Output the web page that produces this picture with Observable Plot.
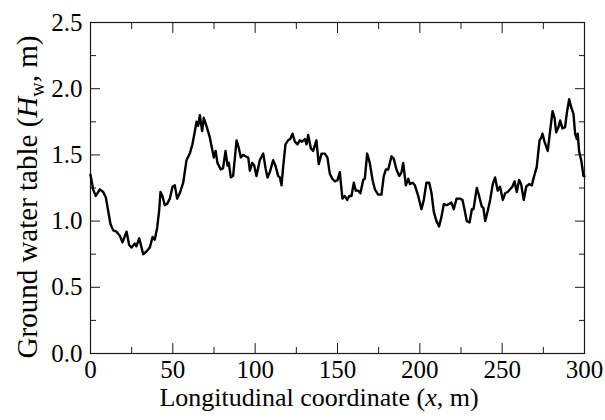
<!DOCTYPE html>
<html>
<head>
<meta charset="utf-8">
<script src="https://cdn.jsdelivr.net/npm/d3@7"></script>
<script src="https://cdn.jsdelivr.net/npm/@observablehq/plot@0.6"></script>
<style>
  html, body { margin: 0; padding: 0; background: #fff; }
  #chart { width: 605px; height: 420px; }
  #chart svg, #chart svg text { font-family: 'Liberation Serif', 'Times New Roman', Times, serif !important; }
</style>
</head>
<body>
<div id="chart"></div>
<script>
// Longitudinal coordinate along the section (m)
const xs = [
  0, 1.6, 3.2, 5.7, 7.7, 9.3, 10.7, 12.1, 13.8, 15.8, 17.8, 19.4, 21.9, 23.5, 24.9, 26.9, 27.9, 29.6, 31.0, 32.0,
  34.0, 36.0, 37.7, 39.0, 40.5, 41.7, 42.5, 43.7, 45.1, 46.5, 48.2, 49.8, 51.2, 52.6, 54.2, 56.3, 58.3, 60.3, 61.9, 63.4,
  64.4, 65.4, 66.4, 67.8, 68.8, 70.4, 72.5, 74.1, 74.9, 76.0, 77.1, 79.1, 80.5, 82.0, 83.2, 84.0, 85.2, 86.6, 88.7, 90.1,
  91.3, 92.7, 94.1, 95.8, 96.8, 98.2, 99.4, 100.8, 102.8, 104.9, 106.3, 107.5, 108.9, 110.9, 112.3, 114.0, 115.0, 116.0, 117.0, 118.4,
  120.0, 121.3, 122.7, 124.1, 125.7, 127.1, 128.5, 130.2, 131.2, 132.2, 133.8, 135.2, 137.2, 138.6, 140.3, 142.3, 143.9, 145.3, 146.8, 148.4,
  150.0, 151.4, 153.0, 154.4, 155.9, 157.1, 158.5, 159.9, 161.1, 162.5, 163.9, 165.6, 166.6, 168.0, 169.6, 171.3, 172.7, 174.7, 176.7, 178.1,
  179.4, 180.8, 182.8, 184.2, 185.8, 187.5, 188.9, 189.9, 191.5, 193.0, 194.0, 195.6, 197.0, 199.0, 201.0, 202.4, 204.0, 205.7, 207.1, 208.5,
  210.1, 211.7, 213.1, 214.6, 216.2, 217.8, 219.2, 220.6, 222.3, 224.3, 225.9, 227.1, 228.5, 230.2, 231.6, 232.6, 234.6, 236.0, 237.6, 238.6,
  239.7, 241.3, 242.7, 244.3, 245.7, 247.3, 248.7, 250.4, 251.8, 253.4, 254.8, 256.2, 257.5, 258.9, 260.3, 261.5, 263.1, 264.6, 266.4, 268.0,
  269.2, 271.0, 272.7, 273.7, 274.5, 275.7, 277.7, 279.1, 280.6, 281.8, 282.8, 284.2, 285.2, 286.6, 288.2, 289.3, 290.7, 291.9, 293.3, 294.3,
  295.3, 295.9, 296.7, 298.0, 299.4, 300.0
];

// Ground water table height H_w (m)
const hw = [
  1.35, 1.24, 1.19, 1.24, 1.22, 1.18, 1.08, 0.98, 0.93, 0.92, 0.89, 0.84, 0.92, 0.82, 0.80, 0.83, 0.81, 0.87, 0.80, 0.75,
  0.77, 0.80, 0.88, 0.86, 0.95, 1.08, 1.22, 1.19, 1.12, 1.13, 1.17, 1.26, 1.27, 1.17, 1.21, 1.29, 1.46, 1.51, 1.58, 1.68,
  1.75, 1.72, 1.80, 1.68, 1.78, 1.72, 1.63, 1.53, 1.48, 1.53, 1.44, 1.39, 1.40, 1.53, 1.42, 1.44, 1.33, 1.34, 1.61, 1.55,
  1.48, 1.50, 1.49, 1.48, 1.38, 1.44, 1.42, 1.34, 1.46, 1.51, 1.40, 1.33, 1.37, 1.46, 1.42, 1.34, 1.33, 1.27, 1.41, 1.58,
  1.61, 1.62, 1.66, 1.60, 1.58, 1.61, 1.60, 1.62, 1.58, 1.65, 1.55, 1.53, 1.61, 1.43, 1.51, 1.51, 1.48, 1.36, 1.32, 1.30,
  1.31, 1.37, 1.17, 1.19, 1.16, 1.19, 1.19, 1.29, 1.23, 1.23, 1.21, 1.31, 1.32, 1.51, 1.44, 1.31, 1.24, 1.20, 1.20, 1.34,
  1.39, 1.39, 1.49, 1.47, 1.39, 1.34, 1.37, 1.44, 1.27, 1.32, 1.28, 1.29, 1.27, 1.19, 1.09, 1.16, 1.29, 1.29, 1.21, 1.07,
  1.00, 0.96, 1.03, 1.13, 1.12, 1.13, 1.14, 1.09, 1.17, 1.17, 1.16, 1.09, 1.00, 0.99, 1.09, 1.09, 1.25, 1.19, 1.11, 1.10,
  1.00, 1.08, 1.16, 1.28, 1.33, 1.23, 1.26, 1.16, 1.21, 1.22, 1.24, 1.26, 1.30, 1.22, 1.31, 1.28, 1.16, 1.26, 1.28, 1.27,
  1.33, 1.41, 1.61, 1.63, 1.66, 1.60, 1.53, 1.68, 1.83, 1.78, 1.67, 1.71, 1.76, 1.70, 1.71, 1.82, 1.92, 1.86, 1.81, 1.66,
  1.62, 1.66, 1.53, 1.46, 1.34, 1.34
];

// Axis ticks
const xMajor = [0, 50, 100, 150, 200, 250, 300];
const xMinor = [25, 75, 125, 175, 225, 275];
const yMajor = [0, 0.5, 1.0, 1.5, 2.0, 2.5];
const yMinor = [0.25, 0.75, 1.25, 1.75, 2.25];

const profile = xs.map((x, i) => ({x, hw: hw[i]}));

const ink = "#1a1a1a";
const serif = "'Liberation Serif', 'Times New Roman', Times, serif";

const plot = Plot.plot({
  width: 605,
  height: 420,
  marginLeft: 90,
  marginRight: 21,
  marginTop: 22,
  marginBottom: 67,
  style: {fontFamily: serif, fontSize: "25px", color: "#000", background: "#fff", overflow: "visible"},
  x: {domain: [0, 300], axis: null},
  y: {domain: [0, 2.5], axis: null},
  marks: [
    // inward ticks on all four sides
    Plot.axisX(xMajor, {anchor: "bottom", tickSize: -10, tickPadding: 17, stroke: ink, fill: "#000",
      tickFormat: d => String(d), label: null}),
    Plot.axisX(xMinor, {anchor: "bottom", tickSize: -6, stroke: ink, fill: "none", label: null}),
    Plot.axisX(xMajor, {anchor: "top", tickSize: -10, stroke: ink, fill: "none", label: null}),
    Plot.axisX(xMinor, {anchor: "top", tickSize: -6, stroke: ink, fill: "none", label: null}),
    Plot.axisY(yMajor, {anchor: "left", tickSize: -10, tickPadding: 18, stroke: ink, fill: "#000",
      tickFormat: d3.format(".1f"), label: null}),
    Plot.axisY(yMinor, {anchor: "left", tickSize: -6, stroke: ink, fill: "none", label: null}),
    Plot.axisY(yMajor, {anchor: "right", tickSize: -10, stroke: ink, fill: "none", label: null}),
    Plot.axisY(yMinor, {anchor: "right", tickSize: -6, stroke: ink, fill: "none", label: null}),
    Plot.frame({stroke: ink, strokeWidth: 1.2}),
    Plot.line(profile, {x: "x", y: "hw", stroke: "#000", strokeWidth: 2.4, strokeLinejoin: "round"})
  ]
});

// Axis titles with italic symbols and subscript
const svg = d3.select(plot);

const xTitle = svg.append("text")
  .attr("x", 319)
  .attr("y", 406)
  .attr("text-anchor", "middle")
  .attr("font-family", serif)
  .attr("font-size", 26)
  .attr("fill", "#000");
xTitle.append("tspan").text("Longitudinal coordinate (");
xTitle.append("tspan").attr("font-style", "italic").text("x");
xTitle.append("tspan").text(", m)");

const yTitle = svg.append("text")
  .attr("transform", "translate(37,197) rotate(-90)")
  .attr("text-anchor", "middle")
  .attr("font-family", serif)
  .attr("font-size", 29)
  .attr("fill", "#000");
yTitle.append("tspan").text("Ground water table (");
yTitle.append("tspan").attr("font-style", "italic").text("H");
yTitle.append("tspan").attr("font-size", 20).attr("dy", 7).text("w");
yTitle.append("tspan").attr("dy", -7).text(", m)");

document.getElementById("chart").appendChild(plot);
</script>
</body>
</html>
